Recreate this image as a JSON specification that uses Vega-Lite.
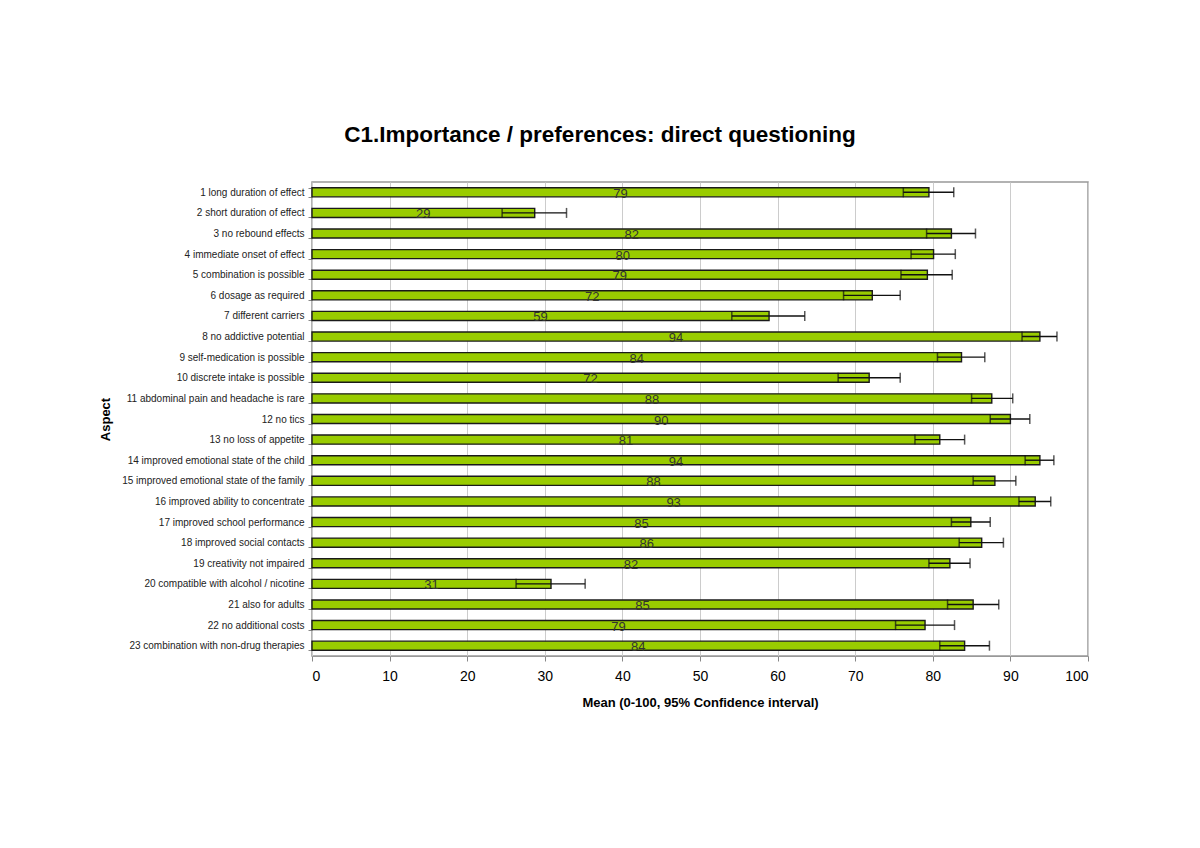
{
  "$schema": "https://vega.github.io/schema/vega-lite/v6.json",
  "width": 776,
  "height": 474,
  "autosize": "none",
  "padding": {"left": 312, "top": 182, "right": 112, "bottom": 192},
  "background": "white",
  "title": {
    "text": "C1.Importance / preferences: direct questioning",
    "font": "Liberation Sans",
    "fontSize": 22.5,
    "fontWeight": "bold",
    "color": "#000000",
    "anchor": "middle",
    "dx": -100,
    "offset": 31
  },
  "config": {
    "font": "Liberation Sans",
    "view": {"stroke": "#999999", "strokeWidth": 1.5}
  },
  "data": {
    "values": [
      {"aspect": "1 long duration of effect", "mean": 79.5, "lower": 76.2, "upper": 82.7, "label": "79"},
      {"aspect": "2 short duration of effect", "mean": 28.7, "lower": 24.5, "upper": 32.8, "label": "29"},
      {"aspect": "3 no rebound effects", "mean": 82.4, "lower": 79.2, "upper": 85.5, "label": "82"},
      {"aspect": "4 immediate onset of effect", "mean": 80.1, "lower": 77.2, "upper": 82.9, "label": "80"},
      {"aspect": "5 combination is possible", "mean": 79.3, "lower": 75.9, "upper": 82.5, "label": "79"},
      {"aspect": "6 dosage as required", "mean": 72.2, "lower": 68.5, "upper": 75.8, "label": "72"},
      {"aspect": "7 different carriers", "mean": 58.9, "lower": 54.1, "upper": 63.5, "label": "59"},
      {"aspect": "8 no addictive potential", "mean": 93.8, "lower": 91.5, "upper": 96.0, "label": "94"},
      {"aspect": "9 self-medication is possible", "mean": 83.7, "lower": 80.6, "upper": 86.7, "label": "84"},
      {"aspect": "10 discrete intake is possible", "mean": 71.8, "lower": 67.8, "upper": 75.8, "label": "72"},
      {"aspect": "11 abdominal pain and headache is rare", "mean": 87.6, "lower": 85.0, "upper": 90.3, "label": "88"},
      {"aspect": "12 no tics", "mean": 90.0, "lower": 87.4, "upper": 92.5, "label": "90"},
      {"aspect": "13 no loss of appetite", "mean": 80.9, "lower": 77.7, "upper": 84.1, "label": "81"},
      {"aspect": "14 improved emotional state of the child", "mean": 93.8, "lower": 91.9, "upper": 95.6, "label": "94"},
      {"aspect": "15 improved emotional state of the family", "mean": 88.0, "lower": 85.2, "upper": 90.7, "label": "88"},
      {"aspect": "16 improved ability to concentrate", "mean": 93.2, "lower": 91.1, "upper": 95.2, "label": "93"},
      {"aspect": "17 improved school performance", "mean": 84.9, "lower": 82.4, "upper": 87.4, "label": "85"},
      {"aspect": "18 improved social contacts", "mean": 86.3, "lower": 83.4, "upper": 89.1, "label": "86"},
      {"aspect": "19 creativity not impaired", "mean": 82.2, "lower": 79.5, "upper": 84.8, "label": "82"},
      {"aspect": "20 compatible with alcohol / nicotine", "mean": 30.8, "lower": 26.3, "upper": 35.2, "label": "31"},
      {"aspect": "21 also for adults", "mean": 85.2, "lower": 81.9, "upper": 88.5, "label": "85"},
      {"aspect": "22 no additional costs", "mean": 79.0, "lower": 75.2, "upper": 82.8, "label": "79"},
      {"aspect": "23 combination with non-drug therapies", "mean": 84.1, "lower": 80.9, "upper": 87.3, "label": "84"}
    ]
  },
  "encoding": {
    "y": {
      "field": "aspect",
      "type": "nominal",
      "sort": null,
      "scale": {"paddingInner": 0.56, "paddingOuter": 0.28},
      "axis": {
        "title": "Aspect",
        "titleFontSize": 13,
        "titleFontWeight": "bold",
        "titleColor": "#000000",
        "titlePadding": 9,
        "labelFontSize": 10,
        "labelColor": "#222222",
        "labelPadding": 4,
        "labelLimit": 300,
        "tickBand": "extent",
        "tickSize": 4,
        "tickColor": "#888888",
        "domain": false,
        "grid": false
      }
    }
  },
  "layer": [
    {
      "layer": [
        {
          "mark": {"type": "bar", "color": "#99cc00", "stroke": "#1a1a1a", "strokeWidth": 1.4},
          "encoding": {
            "x": {
              "field": "mean",
              "type": "quantitative",
              "scale": {"domain": [0, 100], "nice": false},
              "axis": {
                "title": "Mean (0-100, 95% Confidence interval)",
                "titleFontSize": 13,
                "titleFontWeight": "bold",
                "titleColor": "#000000",
                "titlePadding": 13,
                "values": [0, 10, 20, 30, 40, 50, 60, 70, 80, 90, 100],
                "labelFontSize": 14,
                "labelColor": "#000000",
                "labelPadding": 8,
                "tickSize": 5,
                "tickColor": "#888888",
                "domainColor": "#999999",
                "grid": true,
                "gridColor": "#cccccc",
                "gridWidth": 1
              }
            }
          }
        },
        {
          "mark": {"type": "rule", "color": "#111111", "strokeWidth": 1.4},
          "encoding": {
            "x": {"field": "lower", "type": "quantitative"},
            "x2": {"field": "upper"}
          }
        },
        {
          "mark": {"type": "tick", "orient": "vertical", "color": "#111111", "thickness": 1.5, "size": 10},
          "encoding": {
            "x": {"field": "lower", "type": "quantitative"}
          }
        },
        {
          "mark": {"type": "tick", "orient": "vertical", "color": "#111111", "thickness": 1.5, "size": 10},
          "encoding": {
            "x": {"field": "upper", "type": "quantitative"}
          }
        }
      ]
    },
    {
      "mark": {"type": "text", "fontSize": 13, "color": "#333333", "align": "center", "baseline": "middle", "dy": 1.5},
      "encoding": {
        "x": {
          "field": "mean",
          "type": "quantitative",
          "scale": {"domain": [0, 200], "nice": false},
          "axis": null
        },
        "text": {"field": "label"}
      }
    }
  ],
  "resolve": {"scale": {"x": "independent"}, "axis": {"x": "independent"}}
}
